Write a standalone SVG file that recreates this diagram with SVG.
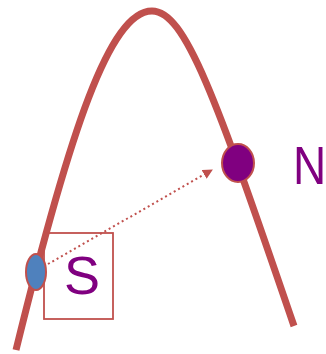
<svg xmlns="http://www.w3.org/2000/svg" width="326" height="354" viewBox="0 0 326 354">
<style>
.curve{fill:none;stroke:#C0504D;stroke-width:7;stroke-linecap:butt}
.lbl{font-family:"Liberation Sans",Arial,sans-serif;font-size:54px;fill:#800080}
.pt{stroke:#C0504D;stroke-width:2}
</style>
<defs>
<marker id="ah" viewBox="0 0 10 10" refX="9" refY="5" markerWidth="5" markerHeight="5" orient="auto" markerUnits="strokeWidth">
<path d="M0,0 L10,5 L0,10 z" fill="#C0504D"/>
</marker>
</defs>
<path class="curve" d="M16,350 C70,130 110,11 152,11 C185,11 215,95 294,326"/>
<g id="box">
<rect x="44" y="233" width="69" height="86" fill="none" stroke="#C0504D" stroke-width="1.8"/>
</g>
<g id="connectors">
<line x1="48" y1="264" x2="212" y2="170" stroke="#C0504D" stroke-width="2" stroke-dasharray="2,3" marker-end="url(#ah)"/>
</g>
<g id="S">
<ellipse class="pt" cx="36" cy="272" rx="10" ry="18" fill="#4F81BD"/>
<text class="lbl" x="82" y="294" text-anchor="middle">S</text>
</g>
<g id="N">
<ellipse class="pt" cx="238" cy="163" rx="16" ry="19" fill="#800080"/>
<text class="lbl" transform="translate(293,184) scale(1,1.15)" x="0" y="0" style="font-size:46px">N</text>
</g>
</svg>
